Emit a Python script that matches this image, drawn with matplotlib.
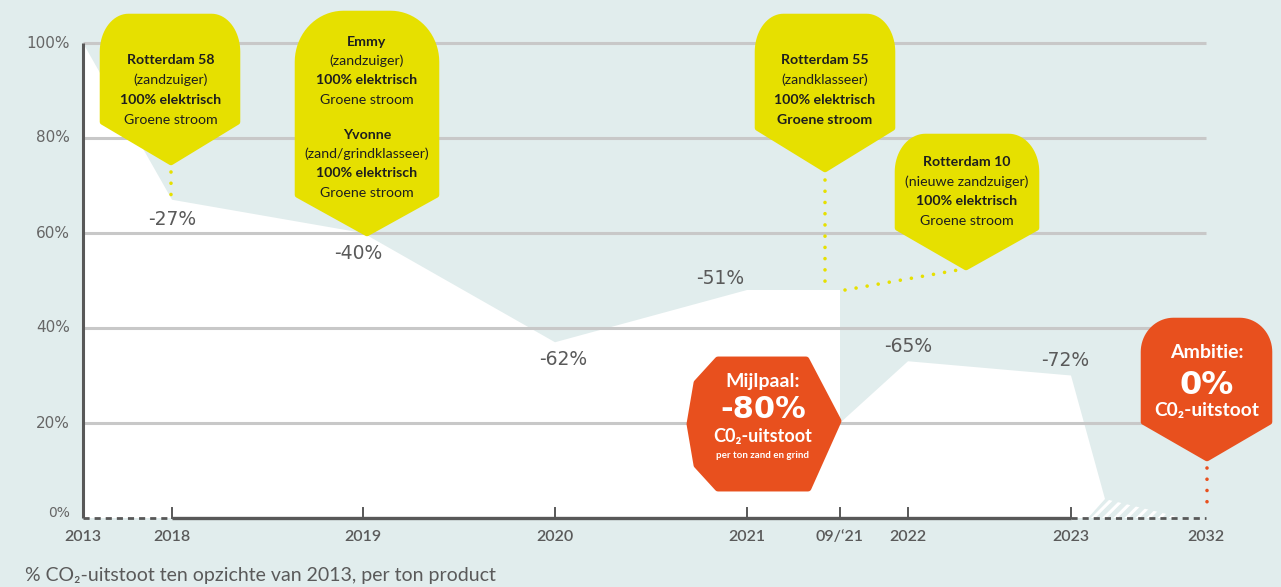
import matplotlib
matplotlib.use('Agg')
import matplotlib.pyplot as plt
from matplotlib.patches import Polygon
import numpy as np

plt.rcParams['font.family'] = ['Lato', 'DejaVu Sans']
plt.rcParams['hatch.linewidth'] = 2.2

# ---------------- data ----------------
tick_labels = ['2013', '2018', '2019', '2020', '2021', '09/\u201821', '2022', '2023', '2032']
# remaining CO2 emission (% of 2013) as drawn in the chart
profile_ticks = ['2013', '2018', '2019', '2020', '2021', '09/\u201821', '09/\u201821', '2022', '2023']
profile_values = [100, 67, 60, 37, 48, 48, 20, 33, 30]
tail_values = [4, 0]                      # fading hatched tail after 2023
change_ticks = ['2018', '2019', '2020', '2021', '2022', '2023']
change_labels = ['-27%', '-40%', '-62%', '-51%', '-65%', '-72%']
y_ticks = [0, 20, 40, 60, 80, 100]
caption = '% CO\u2082-uitstoot ten opzichte van 2013, per ton product'

# ---------------- layout ----------------
W, H = 1281, 587
x_pos = dict(zip(tick_labels, [83, 172, 363, 555, 747, 840, 908, 1071, 1206]))
PX0, PXP = 518.0, 4.75          # pixel row of 0 %, pixels per percent
BG = '#e1eded'
YEL = '#e6e000'
ORA = '#e8501e'
GRID = '#c8c8c8'
AX = '#585858'
TXT = '#5a5a5a'
NUMFONT = ['DejaVu Sans']

fig = plt.figure(figsize=(W / 100, H / 100), dpi=100)
fig.patch.set_facecolor(BG)
ax = fig.add_axes([0, 0, 1, 1])
ax.set_xlim(0, W)
ax.set_ylim((PX0 - H) / PXP, PX0 / PXP)
ax.axis('off')
deco = fig.add_axes([0, 0, 1, 1])
deco.set_xlim(0, W)
deco.set_ylim(H, 0)
deco.axis('off')
deco.patch.set_alpha(0)

# white area
xs = [x_pos[t] for t in profile_ticks]
tail_x = [x_pos['2023'] + 34, x_pos['2023'] + 17]
poly = list(zip(xs, profile_values)) + list(zip(tail_x, tail_values)) + [(x_pos['2013'], 0)]
ax.add_patch(Polygon(poly, closed=True, facecolor='white', edgecolor='none', zorder=1))
# hatched tail
hatch = [(x_pos['2023'] + 17, 0), (x_pos['2023'] + 34, tail_values[0]), (x_pos['2023'] + 112, 0)]
ax.add_patch(Polygon(hatch, closed=True, facecolor='none', edgecolor='white', hatch='///',
                     linewidth=0, zorder=1))

# gridlines
ax.hlines(y_ticks[1:], x_pos['2013'], x_pos['2032'], color=GRID, linewidth=2.2, zorder=2)
# axes
ax.plot([x_pos['2013'], x_pos['2013']], [0, 100], color=AX, linewidth=2.2, zorder=3,
        solid_capstyle='butt')
ax.plot([x_pos['2018'], x_pos['2023']], [0, 0], color=AX, linewidth=2.4, zorder=3,
        solid_capstyle='butt')
ax.plot([x_pos['2013'], x_pos['2018']], [0, 0], color=AX, linewidth=2.0, zorder=3,
        linestyle=(0, (2.2, 1.8)))
ax.plot([x_pos['2023'], x_pos['2032']], [0, 0], color=AX, linewidth=2.0, zorder=3,
        linestyle=(0, (2.2, 1.8)))
for t in ['2018', '2019', '2020', '2021', '09/\u201821', '2022', '2023']:
    ax.plot([x_pos[t], x_pos[t]], [0, 2.2], color=AX, linewidth=1.4, zorder=3)

for v in y_ticks:
    ax.text(70, v + (1.0 if v == 0 else 0), f'{v}%', ha='right', va='center',
            fontsize=11 if v else 10, color='#666666', family=NUMFONT)
for t in tick_labels:
    ax.text(x_pos[t], (PX0 - 537) / PXP, t, ha='center', va='center', fontsize=11.5,
            color=TXT, fontweight='semibold')

label_offsets = {'2018': (0, -4.2), '2019': (-5, -4.4), '2020': (8, -3.6),
                 '2021': (-27, 2.4), '2022': (0, 3.0), '2023': (-6, 3.2)}
val_at = dict(zip(profile_ticks, profile_values))
for t, lab in zip(change_ticks, change_labels):
    dx, dy = label_offsets[t]
    ax.text(x_pos[t] + dx, val_at[t] + dy, lab, ha='center', va='center',
            fontsize=13.5, color=TXT, zorder=4, family=NUMFONT)

deco.text(25, 575, caption, ha='left', va='center', fontsize=14, color=TXT)


# ---------------- balloons ----------------
def pin(cx, left, right, top, shoulder, side_end, tip, color, rx=24):
    """Balloon with rounded top corners (elliptical, ry = shoulder-top) and a pointed bottom."""
    inset = 2.5
    l, r, tp = left + inset, right - inset, top + inset
    ry = shoulder - tp
    t = np.linspace(0, np.pi / 2, 20)
    pts = []
    # right-top corner: from (r, shoulder) up to (r-rx, tp)
    pts += list(zip(r - rx + rx * np.cos(t), shoulder - ry * np.sin(t)))
    # left-top corner: from (l+rx, tp) down to (l, shoulder)
    pts += list(zip(l + rx - rx * np.sin(t), shoulder - ry * np.cos(t)))
    pts += [(l, side_end), (cx, tip - inset), (r, side_end)]
    deco.add_patch(Polygon(pts, closed=True, facecolor=color, edgecolor=color,
                           linewidth=4, joinstyle='round', zorder=5))


def lines(cx, rows, color='#1e1e1e'):
    for y, s, w, fs, *fam in rows:
        kw = {'family': fam[0]} if fam else {}
        deco.text(cx, y, s, ha='center', va='center', fontsize=fs, fontweight=w,
                  color=color, zorder=6, **kw)


def dots(x0, y0, x1, y1, color):
    deco.plot([x0, x1], [y0, y1], color=color, linewidth=2.6,
              linestyle=(0, (0.01, 3.1)), dash_capstyle='round', zorder=4)


FS = 10.2
# Rotterdam 58
pin(171, 100, 240, 14, 52, 122, 165, YEL, rx=26)
lines(171, [(60, 'Rotterdam 58', 'bold', FS), (80, '(zandzuiger)', 'normal', FS),
            (100, '100% elektrisch', 'bold', FS), (120, 'Groene stroom', 'normal', FS)])
dots(171, 172, 171, 196, YEL)

# Emmy / Yvonne
pin(367, 295, 439, 11, 62, 195, 236, YEL, rx=46)
lines(367, [(42, 'Emmy', 'bold', FS), (61, '(zandzuiger)', 'normal', FS),
            (80, '100% elektrisch', 'bold', FS), (100, 'Groene stroom', 'normal', FS),
            (135, 'Yvonne', 'bold', FS), (154, '(zand/grindklasseer)', 'normal', FS),
            (173, '100% elektrisch', 'bold', FS), (193, 'Groene stroom', 'normal', FS)])

# Rotterdam 55
pin(825, 755, 895, 14, 52, 128, 172, YEL, rx=26)
lines(825, [(60, 'Rotterdam 55', 'bold', FS), (80, '(zandklasseer)', 'normal', FS),
            (100, '100% elektrisch', 'bold', FS), (120, 'Groene stroom', 'bold', FS)])
dots(825, 180, 825, 284, YEL)

# Rotterdam 10
pin(966, 895, 1039, 134, 172, 228, 270, YEL, rx=28)
lines(967, [(162, 'Rotterdam 10', 'bold', FS), (182, '(nieuwe zandzuiger)', 'normal', FS),
            (201, '100% elektrisch', 'bold', FS), (221, 'Groene stroom', 'normal', FS)])
dots(845, 290, 958, 270, YEL)

# Mijlpaal
mp = [(718, 360), (806, 360), (838, 421), (808, 488), (718, 488), (697, 465), (690, 424),
      (697, 383)]
deco.add_patch(Polygon(mp, closed=True, facecolor=ORA, edgecolor=ORA, linewidth=5,
                       joinstyle='round', zorder=5))
lines(763, [(382, 'Mijlpaal:', 'bold', 14), (410, '-80%', 'bold', 22, NUMFONT),
            (437, 'C0\u2082-uitstoot', 'bold', 13), (456, 'per ton zand en grind', 'bold', 7)],
      color='white')

# Ambitie
pin(1207, 1141, 1272, 318, 352, 422, 461, ORA, rx=30)
lines(1207, [(353, 'Ambitie:', 'bold', 14), (386, '0%', 'bold', 23, NUMFONT),
             (411, 'C0\u2082-uitstoot', 'bold', 13.8)], color='white')
dots(1207, 468, 1207, 512, ORA)

fig.savefig('out.png', dpi=100, facecolor=BG)
